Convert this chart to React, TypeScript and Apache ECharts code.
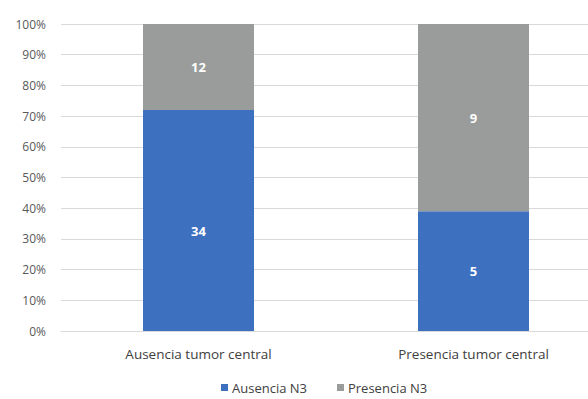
import React, { useEffect, useRef } from "react";
import * as echarts from "echarts";

const categories = ["Ausencia tumor central", "Presencia tumor central"];
const seriesNames = ["Ausencia N3", "Presencia N3"];
const ausenciaPct = [72, 39];
const presenciaPct = [28, 61];
const ausenciaCounts = [34, 5];
const presenciaCounts = [12, 9];

export default function App() {
  const ref = useRef<HTMLDivElement>(null);
  useEffect(() => {
    if (!ref.current) return;
    const chart = echarts.init(ref.current, null, { renderer: "svg" });
    const font = "'Open Sans', sans-serif";
    const labelStyle = (counts: number[]) => ({
      show: true,
      position: "inside",
      color: "#ffffff",
      fontFamily: font,
      fontSize: 13,
      fontWeight: "bold",
      formatter: (p: any) => String(counts[p.dataIndex]),
    });
    chart.setOption({
      animation: false,
      backgroundColor: "#ffffff",
      textStyle: { fontFamily: font },
      grid: { left: 61, top: 24, right: 0, height: 307, containLabel: false },
      legend: {
        data: seriesNames,
        left: 216,
        top: 376,
        itemWidth: 7,
        itemHeight: 7,
        itemGap: 30,
        icon: "rect",
        textStyle: { color: "#404040", fontSize: 13, fontFamily: font, padding: [0, 0, 0, -1] },
      },
      xAxis: {
        type: "category",
        data: categories,
        axisLine: { lineStyle: { color: "#d9d9d9" } },
        axisTick: { show: false },
        axisLabel: { color: "#404040", fontSize: 13.5, margin: 16, fontFamily: font },
      },
      yAxis: {
        type: "value",
        min: 0,
        max: 100,
        interval: 10,
        axisLine: { show: false },
        axisTick: { show: false },
        splitLine: { lineStyle: { color: "#d9d9d9" } },
        axisLabel: { formatter: "{value}%", color: "#595959", fontSize: 12, margin: 15, fontFamily: font },
      },
      series: [
        {
          name: seriesNames[0],
          type: "bar",
          stack: "total",
          data: ausenciaPct.map((v, i) => (i === 0 ? { value: v, label: { offset: [0, 11] } } : v)),
          barWidth: 111,
          itemStyle: { color: "#3d70be" },
          label: labelStyle(ausenciaCounts),
        },
        {
          name: seriesNames[1],
          type: "bar",
          stack: "total",
          data: presenciaPct,
          barWidth: 111,
          itemStyle: { color: "#9a9c9c" },
          label: labelStyle(presenciaCounts),
        },
      ],
    });
    return () => chart.dispose();
  }, []);
  return <div ref={ref} style={{ width: 611, height: 399, position: "fixed", left: 0, top: 0 }} />;
}
